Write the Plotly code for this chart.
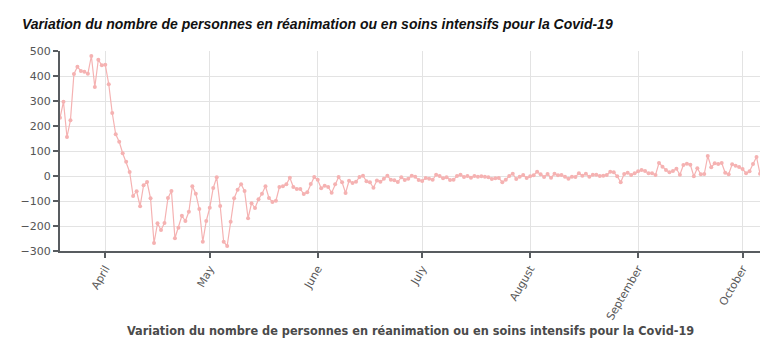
import pandas as pd
import plotly.graph_objects as go

start_date = "2020-03-19"
end_date = "2020-10-06"
values = [
    233, 297, 156, 223, 408, 437, 420, 417, 409, 480, 356, 465, 443, 445, 367, 252,
    167, 137, 91, 57, 16, -80, -61, -121, -37, -24, -89, -268, -189, -216, -188, -88,
    -60, -249, -207, -159, -180, -143, -41, -71, -132, -263, -180, -127, -48, -5, -120,
    -263, -280, -183, -89, -55, -33, -60, -169, -109, -128, -93, -71, -41, -88, -104,
    -99, -44, -41, -33, -7, -44, -52, -52, -72, -65, -32, -4, -15, -49, -39, -44, -67,
    -33, -4, -25, -68, -19, -28, -23, -4, 1, -21, -25, -47, -18, -23, -11, 1, -15, -17,
    -24, -5, -16, -11, 1, -3, -16, -20, -8, -11, -15, 5, 0, -9, -5, -16, -15, 0, 5, -4,
    0, -7, 0, -3, -1, -3, -5, -12, -9, -8, -25, -15, 0, 9, -12, -3, 4, -8, -1, 3, 17, 7,
    -4, 8, -7, 9, 3, 4, -3, -11, -3, -4, 11, 1, 9, -3, 5, 5, 0, 1, 4, 17, 15, -1, -25,
    8, 13, 4, 11, 19, 24, 20, 11, 11, 4, 52, 37, 24, 15, 20, 29, 5, 44, 49, 45, -1, 31,
    7, 8, 80, 35, 51, 48, 52, 13, 7, 47, 41, 36, 28, 11, 19, 48, 76, 9,
]
dates = pd.date_range(start_date, periods=len(values), freq="D")
y_ticks = [500, 400, 300, 200, 100, 0, -100, -200, -300]
month_ticks = pd.date_range("2020-04-01", "2020-10-01", freq="MS")
title_text = "Variation du nombre de personnes en réanimation ou en soins intensifs pour la Covid-19"
axis_title = "Variation du nombre de personnes en réanimation ou en soins intensifs pour la Covid-19"

pink = "rgb(245,178,178)"
fig = go.Figure()
fig.add_trace(go.Scatter(
    x=dates, y=values, mode="lines+markers",
    line=dict(color=pink, width=1.2),
    marker=dict(color=pink, size=4),
    showlegend=False, hoverinfo="x+y",
))

axis_col = "#585c60"
fig.update_layout(
    width=767, height=343,
    margin=dict(l=60, r=7, t=51, b=92),
    paper_bgcolor="white", plot_bgcolor="white",
    xaxis=dict(
        range=[dates[0], dates[-1]],
        tickvals=month_ticks, tickformat="%B", tickangle=-60,
        showgrid=True, gridcolor="#e3e3e3", gridwidth=1,
        showline=True, linecolor=axis_col, linewidth=2,
        ticks="outside", ticklen=5, tickcolor=axis_col, tickwidth=1.5,
        tickfont=dict(family="DejaVu Sans", size=11, color="#5a5a5a"),
        zeroline=False,
    ),
    yaxis=dict(
        range=[-300, 500], tickvals=y_ticks,
        showgrid=True, gridcolor="#e3e3e3", gridwidth=1,
        showline=True, linecolor=axis_col, linewidth=2,
        ticks="outside", ticklen=5, tickcolor=axis_col, tickwidth=1.5,
        tickfont=dict(family="DejaVu Sans", size=11, color="#555"),
        zeroline=False,
    ),
    annotations=[
        dict(text="<b><i>" + title_text + "</i></b>", xref="paper", yref="paper",
             x=-40 / 700, y=1 + 27 / 200, xanchor="left", yanchor="middle",
             showarrow=False,
             font=dict(family="Liberation Sans", size=14, color="#111")),
        dict(text="<b>" + axis_title + "</b>", xref="paper", yref="paper",
             x=0.5, y=-79 / 200, xanchor="center", yanchor="middle",
             showarrow=False,
             font=dict(family="DejaVu Sans Condensed", size=12.6, color="#4a4a4a")),
    ],
)
fig.write_html("out.html")
